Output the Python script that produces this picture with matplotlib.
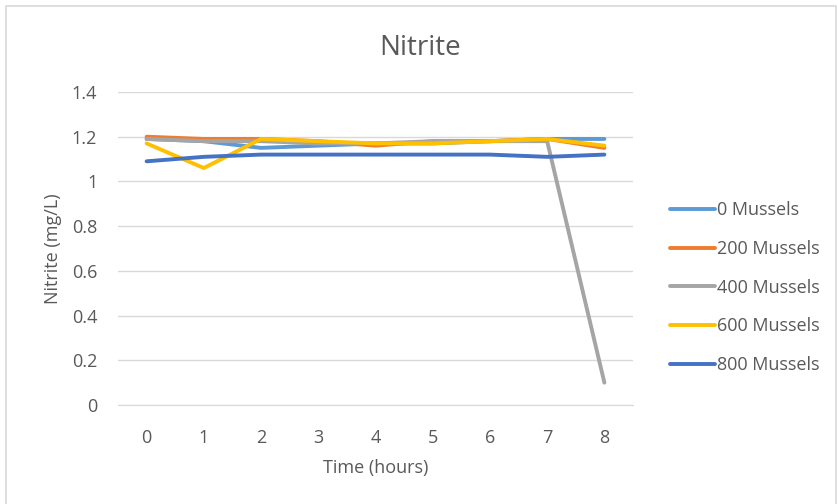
import matplotlib
matplotlib.use("Agg")
import matplotlib.pyplot as plt
from matplotlib.patches import Rectangle

hours = [0, 1, 2, 3, 4, 5, 6, 7, 8]
series_names = ["0 Mussels", "200 Mussels", "400 Mussels", "600 Mussels", "800 Mussels"]
m0 = [1.19, 1.18, 1.15, 1.16, 1.17, 1.17, 1.18, 1.19, 1.19]
m200 = [1.20, 1.19, 1.19, 1.18, 1.16, 1.18, 1.18, 1.19, 1.15]
m400 = [1.19, 1.18, 1.18, 1.17, 1.17, 1.18, 1.18, 1.18, 0.10]
m600 = [1.17, 1.06, 1.19, 1.18, 1.17, 1.17, 1.18, 1.19, 1.16]
m800 = [1.09, 1.11, 1.12, 1.12, 1.12, 1.12, 1.12, 1.11, 1.12]
yticks = [0, 0.2, 0.4, 0.6, 0.8, 1, 1.2, 1.4]
ytick_labels = ["0", "0.2", "0.4", "0.6", "0.8", "1", "1.2", "1.4"]

colors = ["#5B9BD5", "#ED7D31", "#A5A5A5", "#FFC000", "#4472C4"]
txt = "#595959"
plt.rcParams["font.family"] = ["Open Sans", "DejaVu Sans"]
fs = 13

fig = plt.figure(figsize=(8.38, 5.04), dpi=100)
fig.patches.append(Rectangle((6 / 838, -0.1), 830 / 838, 1.1 - 6 / 504,
                             transform=fig.transFigure, fill=False,
                             edgecolor="#D9D9D9", linewidth=1.2))
ax = fig.add_axes([118 / 838, 1 - 405 / 504, 515 / 838, 313 / 504])

for name, vals, c in zip(series_names, [m0, m200, m400, m600, m800], colors):
    ax.plot(hours, vals, color=c, linewidth=2.8, label=name, solid_capstyle="round")

ax.set_xlim(-0.5, 8.5)
ax.set_ylim(0, 1.4)
ax.set_yticks(yticks)
ax.set_yticklabels(ytick_labels)
ax.set_xticks(hours)
ax.grid(axis="y", color="#D9D9D9", linewidth=1)
ax.set_axisbelow(True)
for s in ["top", "right", "left"]:
    ax.spines[s].set_visible(False)
ax.spines["bottom"].set_color("#D9D9D9")
ax.tick_params(length=0, colors=txt, labelsize=fs)
ax.tick_params(axis="x", pad=17)
ax.tick_params(axis="y", pad=15)
ax.set_xlabel("Time (hours)", color=txt, fontsize=fs, labelpad=9)
ax.set_ylabel("Nitrite (mg/L)", color=txt, fontsize=fs, labelpad=7)
fig.text(420 / 838, 1 - 48 / 504, "Nitrite", ha="center", va="center",
         fontsize=20, color=txt)
leg = ax.legend(loc="center left", bbox_to_anchor=(1.072, 0.375), frameon=False,
                fontsize=fs, handlelength=2.5, labelspacing=1.15,
                handletextpad=0.1, borderpad=0, borderaxespad=0)
for t in leg.get_texts():
    t.set_color(txt)

fig.savefig("out.png", dpi=100)
